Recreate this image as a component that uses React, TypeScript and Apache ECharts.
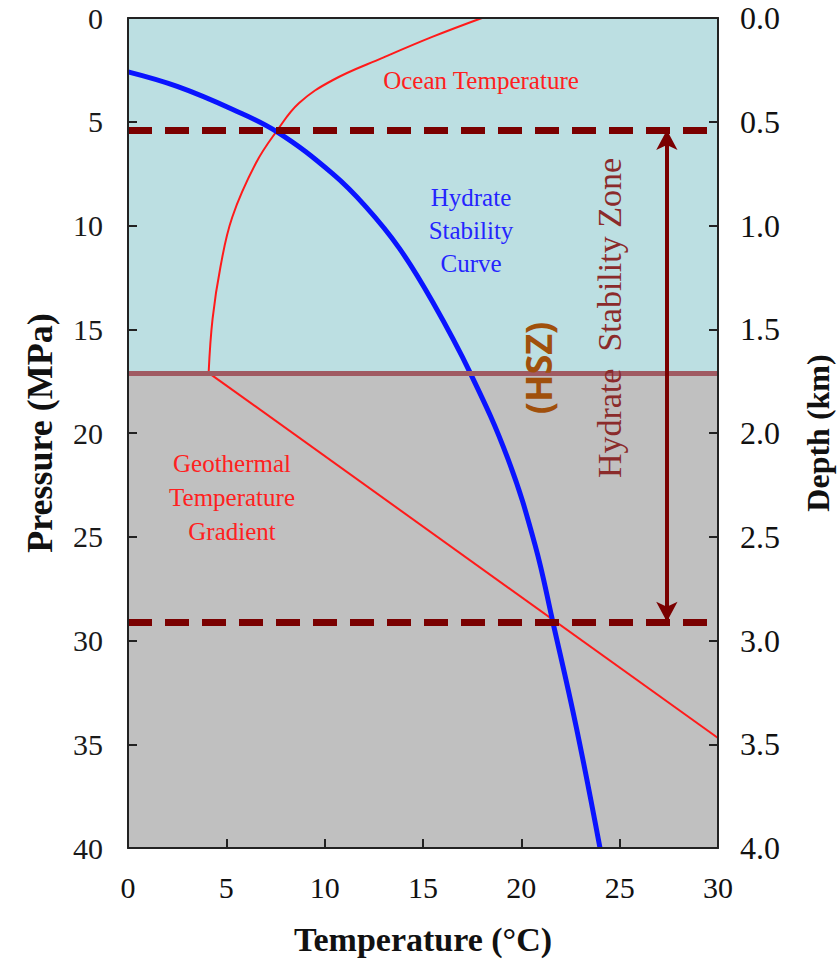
import React, { useEffect, useRef } from "react";
import * as echarts from "echarts";

// Hydrate stability curve: [temperature °C, pressure MPa]
const hydrateCurve: [number, number][] = [
  [0, 2.6], [2.5, 3.3], [5.3, 4.4], [7.6, 5.5], [10.4, 7.5], [12.1, 9.1],
  [13.8, 11.1], [15.5, 13.7], [17.4, 17.1], [19.3, 21.2], [20.7, 25.4],
  [21.6, 29.1], [22.8, 34.2], [24.0, 40.0],
];
// Ocean temperature profile
const oceanTemp: [number, number][] = [
  [18.0, 0], [15.5, 0.9], [13.0, 1.9], [10.4, 3.0], [8.7, 4.1], [7.6, 5.4],
  [6.5, 7.0], [5.3, 9.6], [4.7, 12.0], [4.3, 14.5], [4.1, 17.1],
];
// Geothermal temperature gradient
const geothermal: [number, number][] = [[4.1, 17.1], [30, 34.7]];

const seafloorPressure = 17.1;
const hszTop = 5.4;
const hszBottom = 29.1;
const arrowTemp = 27.4;

const tempTicks = { min: 0, max: 30, interval: 5 };
const pressureTicks = { min: 0, max: 40, interval: 5 };
const depthTicks = { min: 0, max: 4, interval: 0.5 };

export default function App() {
  const ref = useRef<HTMLDivElement>(null);
  useEffect(() => {
    const chart = echarts.init(ref.current!, undefined, { renderer: "svg" });
    const serif = "Liberation Serif";
    const axisLine = { show: true, onZero: false, lineStyle: { color: "#222", width: 2 } };
    const tick = { show: true, inside: true, length: 9, lineStyle: { color: "#222", width: 2 } };
    chart.setOption({
      animation: false,
      backgroundColor: "#ffffff",
      grid: { left: 128, right: 122, top: 18, bottom: 115, outerBoundsMode: "none", containLabel: false },
      xAxis: [
        {
          type: "value", position: "bottom", ...tempTicks, z: 10,
          axisLine, axisTick: tick,
          axisLabel: { color: "#111", fontFamily: serif, fontSize: 30, margin: 24 },
          splitLine: { show: false },
          name: "Temperature (°C)", nameLocation: "middle", nameGap: 74,
          nameTextStyle: { color: "#111", fontFamily: serif, fontSize: 34, fontWeight: "bold" },
        },
        {
          type: "value", position: "top", ...tempTicks, z: 10,
          axisLine,
          axisTick: { show: false }, axisLabel: { show: false }, splitLine: { show: false },
        },
      ],
      yAxis: [
        {
          type: "value", position: "left", inverse: true, ...pressureTicks, z: 10,
          axisLine, axisTick: tick,
          axisLabel: { color: "#1a1a1a", fontFamily: serif, fontSize: 30, margin: 25 },
          splitLine: { show: false },
          name: "Pressure (MPa)", nameLocation: "middle", nameGap: 70, nameRotate: 90,
          nameTextStyle: { color: "#111", fontFamily: serif, fontSize: 36, fontWeight: "bold" },
        },
        {
          type: "value", position: "right", inverse: true, ...depthTicks, z: 10,
          axisLine, axisTick: tick,
          axisLabel: {
            color: "#111", fontFamily: serif, fontSize: 32, margin: 22,
            formatter: (v: number) => v.toFixed(1),
          },
          splitLine: { show: false },
          name: "Depth (km)", nameLocation: "middle", nameGap: 84, nameRotate: 90,
          nameTextStyle: { color: "#111", fontFamily: serif, fontSize: 32, fontWeight: "bold" },
        },
      ],
      series: [
        {
          name: "background", type: "line", data: [], z: 1,
          markArea: {
            silent: true,
            data: [
              [{ yAxis: 0, xAxis: tempTicks.min, itemStyle: { color: "#bcdfe2" } }, { yAxis: seafloorPressure, xAxis: tempTicks.max }],
              [{ yAxis: seafloorPressure, xAxis: tempTicks.min, itemStyle: { color: "#c0c0c0" } }, { yAxis: pressureTicks.max, xAxis: tempTicks.max }],
            ],
          },
          markLine: {
            silent: true, symbol: "none", label: { show: false },
            data: [
              { yAxis: seafloorPressure, lineStyle: { color: "#a05a62", width: 5, type: "solid" } },
            ],
          },
        },
        {
          name: "Geothermal", type: "line", data: geothermal, showSymbol: false, z: 3,
          lineStyle: { color: "#ff1a1a", width: 2 },
        },
        {
          name: "Ocean", type: "line", data: oceanTemp, smooth: 0.4, showSymbol: false, z: 3,
          lineStyle: { color: "#ff1a1a", width: 2 },
        },
        {
          name: "Hydrate", type: "line", data: hydrateCurve, smooth: 0.4, showSymbol: false, z: 4,
          lineStyle: { color: "#0a14ff", width: 5 },
        },
        {
          name: "HSZ", type: "line", data: [], z: 5,
          markLine: {
            silent: true, symbol: "none", label: { show: false },
            lineStyle: { color: "#7a0000", width: 7, type: [24, 13] },
            data: [{ yAxis: hszTop }, { yAxis: hszBottom }],
          },
        },
        {
          name: "Arrow", type: "line", data: [], z: 6,
          markLine: {
            silent: true, symbol: ["arrow", "arrow"], symbolSize: [16, 20], label: { show: false },
            lineStyle: { color: "#7a0000", width: 4, type: "solid" },
            data: [[{ coord: [arrowTemp, hszTop] }, { coord: [arrowTemp, hszBottom] }]],
          },
        },
      ],
      graphic: [
        { type: "text", x: 481, y: 80, z: 20, style: { text: "Ocean Temperature", fill: "#ff2020", font: `25px "${serif}"`, align: "center", verticalAlign: "middle" } },
        { type: "text", x: 471, y: 230, z: 20, style: { text: "Hydrate\nStability\nCurve", fill: "#2424ff", font: `25px "${serif}"`, lineHeight: 33, align: "center", verticalAlign: "middle" } },
        { type: "text", x: 232, y: 497, z: 20, style: { text: "Geothermal\nTemperature\nGradient", fill: "#ff2020", font: `25px "${serif}"`, lineHeight: 34, align: "center", verticalAlign: "middle" } },
        { type: "text", x: 609, y: 318, rotation: Math.PI / 2, z: 20, style: { text: "Hydrate  Stability Zone", fill: "#8b2b2b", font: `34px "${serif}"`, align: "center", verticalAlign: "middle" } },
        { type: "text", x: 538, y: 368, rotation: Math.PI / 2, z: 20, style: { text: "(HSZ)", fill: "#a0500c", font: `bold 36px "Noto Sans"`, align: "center", verticalAlign: "middle" } },
      ],
    });
    return () => chart.dispose();
  }, []);
  return <div ref={ref} style={{ position: "absolute", left: 0, top: 0, width: 840, height: 963 }} />;
}
